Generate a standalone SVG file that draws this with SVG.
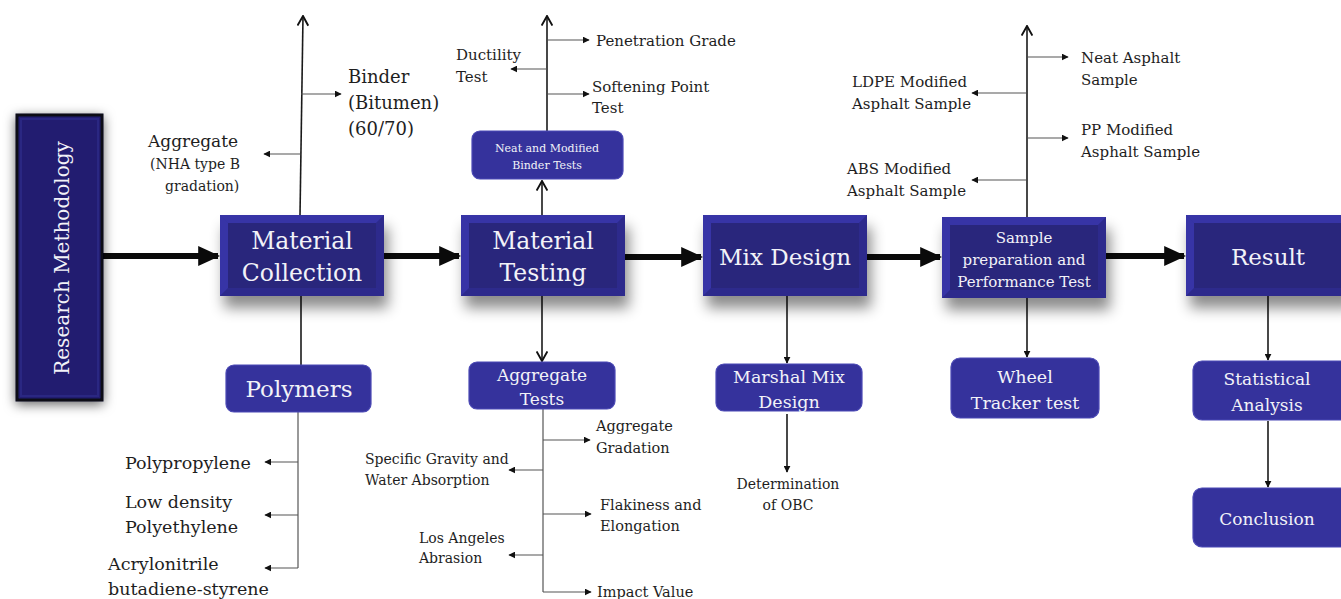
<svg xmlns="http://www.w3.org/2000/svg" width="1341" height="599" viewBox="0 0 1341 599">
<defs>
<style>
.t{font-family:"DejaVu Serif","Liberation Serif",serif;fill:#1e1e1e}
.w{font-family:"DejaVu Serif","Liberation Serif",serif;fill:#f2f2f8;text-anchor:middle}
.ln{stroke:#1a1a1a;stroke-width:1.6;fill:none}
.br{stroke:#555;stroke-width:1.2;fill:none}
.thick{stroke:#0a0a0a;stroke-width:6;fill:none}
.rb{fill:#35329c;stroke:#4b49b5;stroke-width:1.2}
.outer{fill:#33309e}
.inner{fill:#29267c}
.lt{fill:#3734a6}
.dk{fill:#2d2a8c}
</style>
<marker id="tri" viewBox="0 0 10 10" refX="9" refY="5" markerWidth="7" markerHeight="7" markerUnits="userSpaceOnUse" orient="auto"><path d="M0,0 L10,5 L0,10 z" fill="#111"/></marker>
<marker id="open" viewBox="0 0 10 10" refX="9" refY="5" markerWidth="12" markerHeight="12" markerUnits="userSpaceOnUse" orient="auto"><path d="M1,0.5 L9,5 L1,9.5" fill="none" stroke="#111" stroke-width="1.6"/></marker>
<marker id="big" viewBox="0 0 10 10" refX="9" refY="5" markerWidth="22" markerHeight="22" markerUnits="userSpaceOnUse" orient="auto"><path d="M0,0.5 L10,5 L0,9.5 z" fill="#0a0a0a"/></marker>
<filter id="sh" x="-20%" y="-20%" width="140%" height="160%"><feDropShadow dx="4" dy="12" stdDeviation="7" flood-color="#000" flood-opacity="0.45"/></filter>
<filter id="sh2" x="-40%" y="-20%" width="180%" height="140%"><feDropShadow dx="0" dy="3" stdDeviation="6" flood-color="#000" flood-opacity="0.6"/></filter>
</defs>

<g id="connectors">
<line class="thick" x1="102" y1="256" x2="218" y2="256" marker-end="url(#big)"/>
<line class="thick" x1="384" y1="256" x2="459" y2="256" marker-end="url(#big)"/>
<line class="thick" x1="625" y1="257" x2="701" y2="257" marker-end="url(#big)"/>
<line class="thick" x1="867" y1="257" x2="940" y2="257" marker-end="url(#big)"/>
<line class="thick" x1="1106" y1="256" x2="1184" y2="256" marker-end="url(#big)"/>

<line class="ln" x1="300" y1="215" x2="303" y2="16" marker-end="url(#open)"/>
<line class="br" x1="301" y1="94" x2="341" y2="94" marker-end="url(#tri)"/>
<line class="br" x1="300" y1="154" x2="264" y2="154" marker-end="url(#tri)"/>
<line class="ln" x1="301" y1="296" x2="301" y2="365"/>
<line class="br" x1="298" y1="412" x2="298" y2="568"/>
<line class="br" x1="298" y1="462" x2="265" y2="462" marker-end="url(#tri)"/>
<line class="br" x1="298" y1="515" x2="265" y2="515" marker-end="url(#tri)"/>
<line class="br" x1="298" y1="568" x2="265" y2="568" marker-end="url(#tri)"/>

<line class="ln" x1="542" y1="215" x2="542" y2="181" marker-end="url(#open)"/>
<line class="ln" x1="547" y1="131" x2="547" y2="16" marker-end="url(#open)"/>
<line class="br" x1="548" y1="40" x2="589" y2="40" marker-end="url(#tri)"/>
<line class="br" x1="547" y1="69" x2="511" y2="69" marker-end="url(#tri)"/>
<line class="br" x1="548" y1="94" x2="589" y2="94" marker-end="url(#tri)"/>
<line class="ln" x1="542" y1="296" x2="542" y2="361" marker-end="url(#open)"/>
<line class="br" x1="543" y1="409" x2="543" y2="592"/>
<line class="br" x1="543" y1="440" x2="590" y2="440" marker-end="url(#tri)"/>
<line class="br" x1="543" y1="470" x2="509" y2="470" marker-end="url(#tri)"/>
<line class="br" x1="543" y1="514" x2="591" y2="514" marker-end="url(#tri)"/>
<line class="br" x1="543" y1="555" x2="509" y2="555" marker-end="url(#tri)"/>
<line class="br" x1="543" y1="592" x2="591" y2="592" marker-end="url(#tri)"/>

<line class="ln" x1="787" y1="296" x2="787" y2="363" marker-end="url(#tri)"/>
<line class="ln" x1="787" y1="414" x2="787" y2="472" marker-end="url(#tri)"/>

<line class="ln" x1="1027" y1="217" x2="1027" y2="26" marker-end="url(#open)"/>
<line class="br" x1="1028" y1="57" x2="1068" y2="57" marker-end="url(#tri)"/>
<line class="br" x1="1026" y1="93" x2="972" y2="93" marker-end="url(#tri)"/>
<line class="br" x1="1028" y1="138" x2="1068" y2="138" marker-end="url(#tri)"/>
<line class="br" x1="1026" y1="180" x2="972" y2="180" marker-end="url(#tri)"/>
<line class="ln" x1="1027" y1="298" x2="1027" y2="357" marker-end="url(#tri)"/>

<line class="ln" x1="1268" y1="296" x2="1268" y2="360" marker-end="url(#tri)"/>
<line class="ln" x1="1268" y1="421" x2="1268" y2="487" marker-end="url(#tri)"/>
</g>

<g id="research-methodology">
<rect x="17" y="115" width="85" height="285" fill="#221f70" stroke="#0c0c18" stroke-width="3" filter="url(#sh2)"/>
<rect x="21" y="119" width="77" height="277" fill="none" stroke="#2a2782" stroke-width="2"/>
<text class="w" transform="translate(69,258) rotate(-90)" font-size="20">Research Methodology</text>
</g>

<g id="material-collection">
<g filter="url(#sh)"><rect class="outer" x="220" y="215" width="164" height="81"/></g>
<polygon class="lt" points="220,215 384,215 376,223 228,223"/>
<polygon class="lt" points="220,215 228,223 228,288 220,296"/>
<polygon class="dk" points="384,215 384,296 376,288 376,223"/>
<polygon class="dk" points="220,296 384,296 376,288 228,288"/>
<rect class="inner" x="228" y="223" width="148" height="65"/>
<text class="w" x="302" y="249" font-size="23.5">Material</text>
<text class="w" x="302" y="281" font-size="23.5">Collection</text>
</g>

<g id="material-testing">
<g filter="url(#sh)"><rect class="outer" x="461" y="215" width="164" height="81"/></g>
<polygon class="lt" points="461,215 625,215 617,223 469,223"/>
<polygon class="lt" points="461,215 469,223 469,288 461,296"/>
<polygon class="dk" points="625,215 625,296 617,288 617,223"/>
<polygon class="dk" points="461,296 625,296 617,288 469,288"/>
<rect class="inner" x="469" y="223" width="148" height="65"/>
<text class="w" x="543" y="249" font-size="23.5">Material</text>
<text class="w" x="543" y="281" font-size="23.5">Testing</text>
</g>

<g id="mix-design">
<g filter="url(#sh)"><rect class="outer" x="703" y="215" width="164" height="81"/></g>
<polygon class="lt" points="703,215 867,215 859,223 711,223"/>
<polygon class="lt" points="703,215 711,223 711,288 703,296"/>
<polygon class="dk" points="867,215 867,296 859,288 859,223"/>
<polygon class="dk" points="703,296 867,296 859,288 711,288"/>
<rect class="inner" x="711" y="223" width="148" height="65"/>
<text class="w" x="785" y="265" font-size="23">Mix Design</text>
</g>

<g id="sample-preparation">
<g filter="url(#sh)"><rect class="outer" x="942" y="217" width="164" height="81"/></g>
<polygon class="lt" points="942,217 1106,217 1098,225 950,225"/>
<polygon class="lt" points="942,217 950,225 950,290 942,298"/>
<polygon class="dk" points="1106,217 1106,298 1098,290 1098,225"/>
<polygon class="dk" points="942,298 1106,298 1098,290 950,290"/>
<rect class="inner" x="950" y="225" width="148" height="65"/>
<text class="w" x="1024" y="243" font-size="15">Sample</text>
<text class="w" x="1024" y="265" font-size="15">preparation and</text>
<text class="w" x="1024" y="287" font-size="15">Performance Test</text>
</g>

<g id="result">
<g filter="url(#sh)"><rect class="outer" x="1186" y="215" width="164" height="81"/></g>
<polygon class="lt" points="1186,215 1350,215 1342,223 1194,223"/>
<polygon class="lt" points="1186,215 1194,223 1194,288 1186,296"/>
<polygon class="dk" points="1186,296 1350,296 1342,288 1194,288"/>
<rect class="inner" x="1194" y="223" width="152" height="65"/>
<text class="w" x="1268" y="265" font-size="23">Result</text>
</g>

<g id="polymers">
<rect class="rb" x="226" y="365" width="145" height="47" rx="8"/>
<text class="w" x="299" y="397" font-size="23">Polymers</text>
</g>

<g id="binder-tests">
<rect class="rb" x="472" y="131" width="151" height="48" rx="8"/>
<text class="w" x="547" y="152" font-size="11">Neat and Modified</text>
<text class="w" x="547" y="169" font-size="11">Binder Tests</text>
</g>

<g id="aggregate-tests">
<rect class="rb" x="469" y="362" width="146" height="47" rx="8"/>
<text class="w" x="542" y="381" font-size="17">Aggregate</text>
<text class="w" x="542" y="405" font-size="17">Tests</text>
</g>

<g id="marshal-mix-design">
<rect class="rb" x="716" y="364" width="146" height="47" rx="8"/>
<text class="w" x="789" y="383" font-size="17.5">Marshal Mix</text>
<text class="w" x="789" y="408" font-size="17.5">Design</text>
</g>

<g id="wheel-tracker">
<rect class="rb" x="951" y="358" width="148" height="60" rx="9"/>
<text class="w" x="1025" y="383" font-size="17.5">Wheel</text>
<text class="w" x="1025" y="409" font-size="17.5">Tracker test</text>
</g>

<g id="statistical-analysis">
<rect class="rb" x="1193" y="361" width="156" height="59" rx="9"/>
<text class="w" x="1267" y="385" font-size="17">Statistical</text>
<text class="w" x="1267" y="411" font-size="17">Analysis</text>
</g>

<g id="conclusion">
<rect class="rb" x="1193" y="488" width="156" height="59" rx="9"/>
<text class="w" x="1267" y="525" font-size="17">Conclusion</text>
</g>

<g id="labels">
<text class="t" x="348" y="83" font-size="18">Binder</text>
<text class="t" x="348" y="109" font-size="18">(Bitumen)</text>
<text class="t" x="348" y="135" font-size="18">(60/70)</text>
<text class="t" x="148" y="147" font-size="17">Aggregate</text>
<text class="t" x="150" y="169" font-size="14">(NHA type B</text>
<text class="t" x="165" y="191" font-size="14">gradation)</text>

<text class="t" x="125" y="469" font-size="17.5">Polypropylene</text>
<text class="t" x="125" y="508" font-size="17.5">Low density</text>
<text class="t" x="125" y="533" font-size="17.5">Polyethylene</text>
<text class="t" x="108" y="570" font-size="17.5">Acrylonitrile</text>
<text class="t" x="108" y="595" font-size="17.5">butadiene-styrene</text>

<text class="t" x="596" y="46" font-size="15">Penetration Grade</text>
<text class="t" x="456" y="60" font-size="15">Ductility</text>
<text class="t" x="456" y="82" font-size="15">Test</text>
<text class="t" x="592" y="92" font-size="15">Softening Point</text>
<text class="t" x="592" y="113" font-size="15">Test</text>

<text class="t" x="596" y="431" font-size="14.5">Aggregate</text>
<text class="t" x="596" y="453" font-size="14.5">Gradation</text>
<text class="t" x="365" y="464" font-size="14">Specific Gravity and</text>
<text class="t" x="365" y="485" font-size="14">Water Absorption</text>
<text class="t" x="600" y="510" font-size="14.5">Flakiness and</text>
<text class="t" x="600" y="531" font-size="14.5">Elongation</text>
<text class="t" x="419" y="543" font-size="14">Los Angeles</text>
<text class="t" x="419" y="563" font-size="14">Abrasion</text>
<text class="t" x="597" y="597" font-size="14.5">Impact Value</text>

<text class="t" x="788" y="489" font-size="14" text-anchor="middle">Determination</text>
<text class="t" x="788" y="510" font-size="14" text-anchor="middle">of OBC</text>

<text class="t" x="1081" y="63" font-size="15">Neat Asphalt</text>
<text class="t" x="1081" y="85" font-size="15">Sample</text>
<text class="t" x="852" y="87" font-size="15">LDPE Modified</text>
<text class="t" x="852" y="109" font-size="15">Asphalt Sample</text>
<text class="t" x="1081" y="135" font-size="15">PP Modified</text>
<text class="t" x="1081" y="157" font-size="15">Asphalt Sample</text>
<text class="t" x="847" y="174" font-size="15">ABS Modified</text>
<text class="t" x="847" y="196" font-size="15">Asphalt Sample</text>
</g>
</svg>
